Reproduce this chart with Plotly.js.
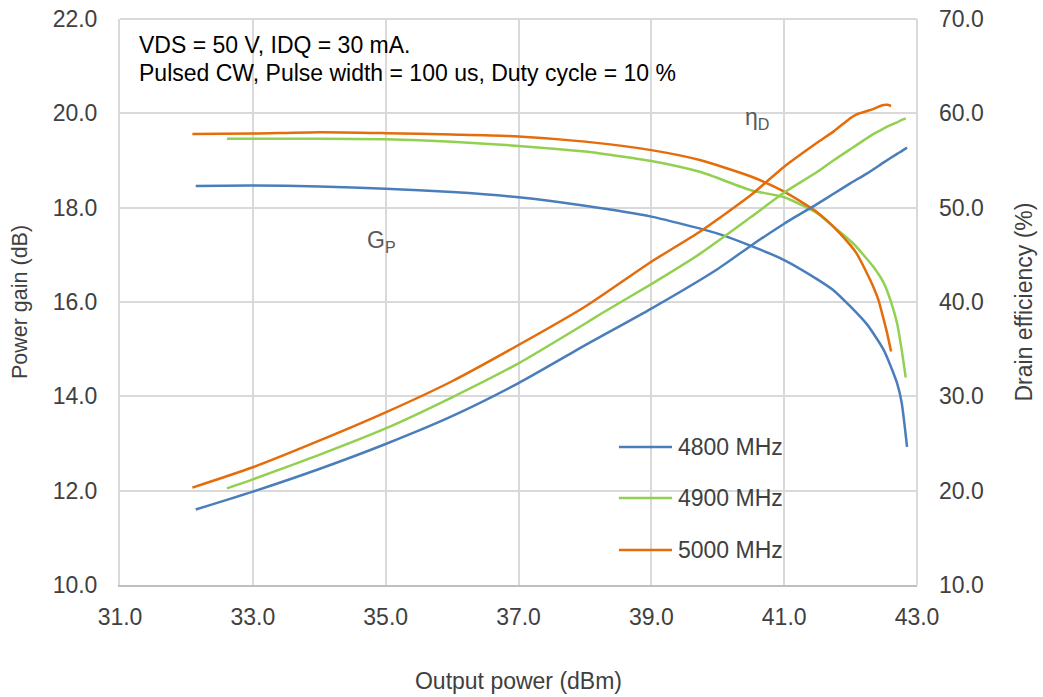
<!DOCTYPE html>
<html>
<head>
<meta charset="utf-8">
<script src="https://cdn.plot.ly/plotly-3.0.1.min.js"></script>
<style>html,body{margin:0;padding:0;background:#fff;}#chart{width:1043px;height:697px;}</style>
</head>
<body>
<div id="chart"></div>
<script>
// Output power (dBm) sample points per frequency
const pout4800 = [32.14, 33.0, 34.0, 35.0, 36.0, 37.0, 38.0, 39.0, 40.0, 40.5, 41.0, 41.5, 41.75, 42.0, 42.25, 42.5, 42.7, 42.77, 42.85];
const gain4800 = [18.46, 18.47, 18.45, 18.40, 18.33, 18.22, 18.04, 17.81, 17.45, 17.19, 16.89, 16.48, 16.24, 15.90, 15.52, 14.98, 14.28, 13.86, 12.93];
const eff4800  = [18.0, 19.9, 22.3, 24.95, 27.9, 31.4, 35.4, 39.3, 43.5, 45.97, 48.3, 50.4, 51.5, 52.6, 53.64, 54.8, 55.7, 56.0, 56.36];

const pout4900 = [32.61, 33.0, 34.0, 35.0, 36.0, 37.0, 38.0, 38.23, 39.0, 39.73, 40.5, 41.0, 41.5, 41.74, 42.04, 42.34, 42.5, 42.6, 42.7, 42.77, 42.83];
const gain4900 = [19.46, 19.46, 19.46, 19.45, 19.40, 19.31, 19.19, 19.15, 18.99, 18.76, 18.37, 18.22, 17.88, 17.60, 17.24, 16.75, 16.40, 16.04, 15.55, 14.98, 14.40];
const eff4900  = [20.25, 21.2, 23.8, 26.6, 29.9, 33.5, 37.7, 38.7, 41.9, 45.1, 49.0, 51.6, 53.8, 55.0, 56.4, 57.8, 58.4, 58.75, 59.05, 59.3, 59.45];

const pout5000 = [32.09, 33.0, 34.0, 35.0, 36.0, 37.0, 38.0, 39.0, 39.73, 40.5, 41.0, 41.5, 41.74, 42.0, 42.09, 42.25, 42.34, 42.42, 42.5, 42.55, 42.61];
const gain5000 = [19.56, 19.57, 19.60, 19.58, 19.55, 19.51, 19.40, 19.22, 19.01, 18.66, 18.34, 17.90, 17.60, 17.20, 17.03, 16.60, 16.33, 16.04, 15.62, 15.34, 14.95];
const eff5000  = [20.32, 22.48, 25.3, 28.3, 31.6, 35.44, 39.5, 44.27, 47.45, 51.34, 54.34, 56.9, 58.06, 59.5, 59.9, 60.25, 60.45, 60.7, 60.88, 60.9, 60.78];

const seriesNames = ['4800 MHz', '4900 MHz', '5000 MHz'];
const seriesColors = ['#4A7EBB', '#92D050', '#E46C0A'];

const xTicks = [31, 33, 35, 37, 39, 41, 43];
const yLeftTicks = [10, 12, 14, 16, 18, 20, 22];
const yRightTicks = [10, 20, 30, 40, 50, 60, 70];

const FONT = 'Liberation Sans, Arial, sans-serif';
const pouts = [pout4800, pout4900, pout5000];
const gains = [gain4800, gain4900, gain5000];
const effs = [eff4800, eff4900, eff5000];

const traces = [];
for (let i = 0; i < 3; i++) {
  traces.push({x: pouts[i], y: gains[i], type: 'scatter', mode: 'lines', name: seriesNames[i],
    line: {color: seriesColors[i], width: 2.5, shape: 'spline', smoothing: 0.6}, showlegend: false, yaxis: 'y'});
  traces.push({x: pouts[i], y: effs[i], type: 'scatter', mode: 'lines', name: seriesNames[i],
    line: {color: seriesColors[i], width: 2.5, shape: 'spline', smoothing: 0.6}, showlegend: false, yaxis: 'y2'});
}

// manual legend (paper coordinates)
const legY = [0.2438, 0.1537, 0.0618];
const shapes = [
  {type: 'line', xref: 'paper', yref: 'paper', x0: 0, x1: 1, y0: 1, y1: 1, line: {color: '#d9d9d9', width: 2}},
  {type: 'line', xref: 'paper', yref: 'paper', x0: 1, x1: 1, y0: 0, y1: 1, line: {color: '#d9d9d9', width: 2}}
];
const annotations = [];
for (let i = 0; i < 3; i++) {
  shapes.push({type: 'line', xref: 'paper', yref: 'paper', x0: 0.626, x1: 0.6926, y0: legY[i], y1: legY[i],
    line: {color: seriesColors[i], width: 2.5}});
  annotations.push({xref: 'paper', yref: 'paper', x: 0.697, y: legY[i], xanchor: 'left', yanchor: 'middle',
    text: seriesNames[i], showarrow: false, font: {family: FONT, size: 23, color: '#404040'}});
}
annotations.push({xref: 'paper', yref: 'paper', x: 0.0215, y: (585 - 45) / 566, xanchor: 'left', yanchor: 'middle',
  text: 'VDS = 50 V, IDQ = 30 mA.', showarrow: false, font: {family: FONT, size: 23, color: '#000000'}});
annotations.push({xref: 'paper', yref: 'paper', x: 0.0215, y: (585 - 73) / 566, xanchor: 'left', yanchor: 'middle',
  text: 'Pulsed CW, Pulse width = 100 us, Duty cycle = 10 %', showarrow: false, font: {family: FONT, size: 23, color: '#000000'}});
annotations.push({xref: 'paper', yref: 'paper', x: (757 - 120) / 797, y: (585 - 118) / 566, xanchor: 'center', yanchor: 'middle',
  text: 'η<sub>D</sub>', showarrow: false, font: {family: FONT, size: 23, color: '#595959'}});
annotations.push({xref: 'paper', yref: 'paper', x: (381 - 120) / 797, y: (585 - 241) / 566, xanchor: 'center', yanchor: 'middle',
  text: 'G<sub>P</sub>', showarrow: false, font: {family: FONT, size: 23, color: '#595959'}});

const layout = {
  width: 1043, height: 697,
  margin: {l: 120, r: 126, t: 19, b: 112, pad: 0},
  paper_bgcolor: '#ffffff', plot_bgcolor: '#ffffff',
  showlegend: false,
  font: {family: FONT, size: 23, color: '#404040'},
  xaxis: {
    range: [31, 43], tickvals: xTicks, tickformat: '.1f', ticks: '', ticklabelstandoff: 10,
    showgrid: true, gridcolor: '#d9d9d9', gridwidth: 2, zeroline: false,
    showline: true, linecolor: '#bfbfbf', linewidth: 2,
    tickfont: {family: FONT, size: 23, color: '#404040'},
    title: {text: 'Output power (dBm)', font: {family: FONT, size: 23, color: '#404040'}, standoff: 44},
    automargin: false
  },
  yaxis: {
    range: [10, 22], tickvals: yLeftTicks, tickformat: '.1f', ticks: '', ticklabelstandoff: 16,
    showgrid: true, gridcolor: '#d9d9d9', gridwidth: 2, zeroline: false,
    showline: true, linecolor: '#d9d9d9', linewidth: 2,
    tickfont: {family: FONT, size: 23, color: '#404040'},
    title: {text: 'Power gain (dB)', font: {family: FONT, size: 21.5, color: '#404040'}, standoff: 19},
    automargin: false
  },
  yaxis2: {
    range: [10, 70], tickvals: yRightTicks, tickformat: '.1f', ticks: '', ticklabelstandoff: 21,
    overlaying: 'y', side: 'right', showgrid: false, zeroline: false, showline: false,
    tickfont: {family: FONT, size: 23, color: '#404040'},
    title: {text: 'Drain efficiency (%)', font: {family: FONT, size: 23, color: '#404040'}, standoff: 33},
    automargin: false
  },
  shapes: shapes,
  annotations: annotations
};

Plotly.newPlot('chart', traces, layout, {displayModeBar: false, staticPlot: true});
</script>
</body>
</html>
